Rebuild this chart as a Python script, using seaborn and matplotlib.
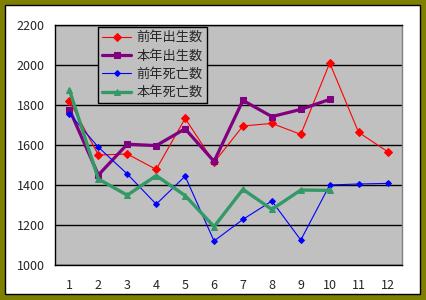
import matplotlib
matplotlib.use("Agg")
import matplotlib.pyplot as plt
from matplotlib.patches import Rectangle
import numpy as np
import pandas as pd
import seaborn as sns

# Monthly births and deaths, previous year vs current year
months = ["1", "2", "3", "4", "5", "6", "7", "8", "9", "10", "11", "12"]
prev_births = [1820, 1550, 1555, 1478, 1733, 1513, 1695, 1708, 1653, 2010, 1663, 1567]
curr_births = [1777, 1450, 1604, 1597, 1681, 1518, 1823, 1742, 1778, 1828]
prev_deaths = [1756, 1589, 1455, 1304, 1444, 1120, 1228, 1320, 1125, 1400, 1405, 1408]
curr_deaths = [1875, 1430, 1349, 1447, 1347, 1192, 1378, 1278, 1375, 1373]
series_names = ["前年出生数", "本年出生数", "前年死亡数", "本年死亡数"]
y_ticks = [1000, 1200, 1400, 1600, 1800, 2000, 2200]

sns.set_style("white")
plt.rcParams["font.family"] = ["Noto Sans CJK JP", "DejaVu Sans"]

fig = plt.figure(figsize=(4.26, 3.0), dpi=100)
fig.patch.set_facecolor("#808000")
# white chart area with thin black outline inside the olive frame
frame = Rectangle((5 / 426, 6 / 300), 415 / 426, 289 / 300,
                  transform=fig.transFigure, facecolor="white",
                  edgecolor="black", linewidth=1.0, zorder=-10)
fig.add_artist(frame)

ax = fig.add_axes([55 / 426, 35 / 300, 347 / 426, 240 / 300])
ax.set_zorder(1)
ax.set_facecolor("#C0C0C0")

styles = [
    dict(color="#FF0000", marker="D", markersize=4.3, linewidth=0.8),
    dict(color="#800080", marker="s", markersize=3.8, linewidth=2.3),
    dict(color="#0000FF", marker="D", markersize=3.0, linewidth=0.8),
    dict(color="#339966", marker="^", markersize=4.0, linewidth=2.4),
]
data = [prev_births, curr_births, prev_deaths, curr_deaths]

for name, vals, st in zip(series_names, data, styles):
    x = np.arange(len(vals))
    sns.lineplot(x=x, y=vals, ax=ax, label=name, color=st["color"],
                 marker=st["marker"], markersize=st["markersize"],
                 markeredgecolor=st["color"], markerfacecolor=st["color"],
                 linewidth=st["linewidth"], zorder=3)

ax.set_xlim(-0.5, len(months) - 0.5)
ax.set_ylim(1000, 2200)
ax.set_yticks(y_ticks)
ax.set_yticklabels([str(v) for v in y_ticks])
ax.set_xticks(np.arange(len(months)))
ax.set_xticklabels(months)
ax.set_xticks(np.arange(-0.5, len(months)), minor=True)
ax.tick_params(axis="x", which="major", length=0, pad=10, labelsize=9)
ax.tick_params(axis="x", which="minor", direction="in", length=4, width=1, color="black")
ax.tick_params(axis="y", length=0, pad=7.5, labelsize=9)

ax.grid(axis="y", color="black", linewidth=1.0)
ax.set_axisbelow(True)
for s in ["left", "bottom", "top"]:
    ax.spines[s].set_color("black")
    ax.spines[s].set_linewidth(1.0)
ax.spines["right"].set_color("#808080")
ax.spines["right"].set_linewidth(1.0)
ax.set_xlabel("")
ax.set_ylabel("")

leg = ax.legend(loc="upper left", bbox_to_anchor=(0.124, 0.99), fontsize=9.5,
                frameon=True, fancybox=False, handlelength=2.2, handletextpad=0.4,
                labelspacing=0.4, borderpad=0.3, borderaxespad=0)
leg.get_frame().set_facecolor("#C0C0C0")
leg.get_frame().set_edgecolor("black")
leg.get_frame().set_linewidth(1.0)
leg.get_frame().set_alpha(1)

fig.savefig("out.png", dpi=100, facecolor=fig.get_facecolor())
